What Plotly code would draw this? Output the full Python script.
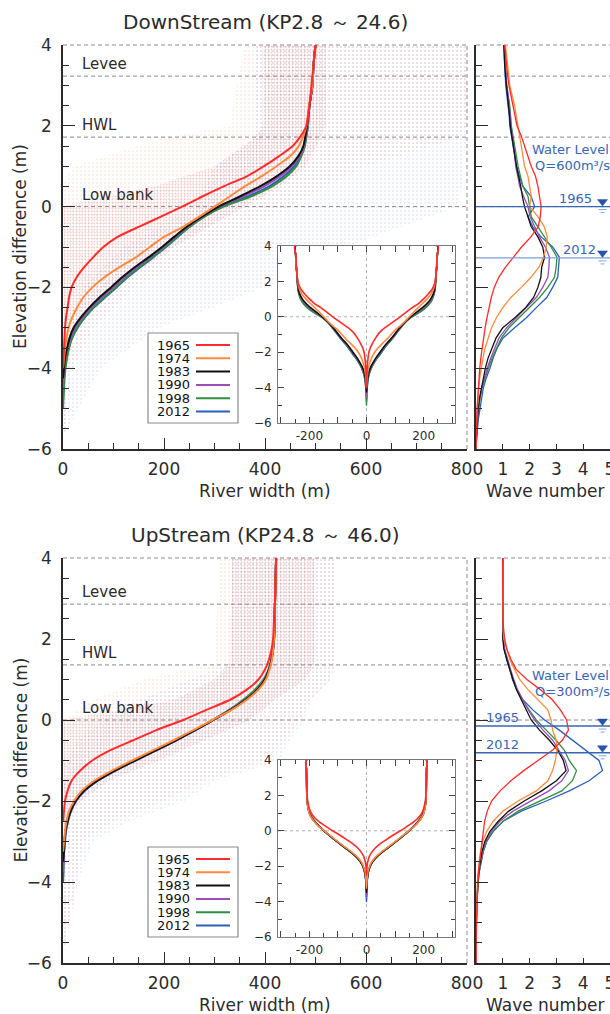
import plotly.graph_objects as go

W, H = 610, 1014
FONT = "DejaVu Sans"
INK = "#2b2b2b"
LEVEL_BLUE = "#3766b4"

YEARS = ["1965", "1974", "1983", "1990", "1998", "2012"]
YEAR_COLORS = ["#ff2b2b", "#ff8a3d", "#111111", "#9a4dbb", "#2f8f3f", "#2b5fb8"]

# ---- river width (m) against elevation difference (m) ----
WIDTH_ELEV = [4.0, 3.5, 3.0, 2.5, 2.0, 1.75, 1.5, 1.25, 1.0, 0.75, 0.5, 0.25, 0.0,
              -0.25, -0.5, -0.75, -1.0, -1.25, -1.5, -1.75, -2.0, -2.25, -2.5, -2.75,
              -3.0, -3.25, -3.5, -3.75, -4.0, -4.25, -4.5, -4.75, -5.0]

DOWN_W_1965 = [500, 496, 492, 488, 482, 471, 455, 428, 398, 364, 318, 276, 236, 194, 150, 108, 80,
               60, 42, 27, 17, 12, 9, 6, 4, 3, 2, 1, 0, None, None, None, None]
DOWN_W_1974 = [500, 496, 494, 487, 482, 476, 467, 450, 423, 393, 360, 330, 300, 270, 238, 200, 172,
               145, 112, 82, 58, 40, 28, 18, 11, 7, 4, 2, 0, None, None, None, None]
DOWN_W_1983 = [500, 496, 494, 488, 483, 480, 476, 466, 449, 423, 390, 350, 308, 275, 245, 220, 196,
               170, 142, 117, 95, 72, 52, 35, 21, 13, 8, 4, 2, 0, None, None, None]
DOWN_W_1990 = [500, 496, 494, 488, 484, 481, 477, 469, 453, 430, 398, 356, 310, 276, 247, 222, 198,
               172, 146, 121, 99, 76, 55, 38, 24, 15, 9, 5, 3, 1, 0, None, None]
DOWN_W_1998 = [500, 496, 494, 488, 485, 482, 479, 472, 462, 443, 414, 372, 318, 280, 251, 226, 202,
               177, 151, 126, 104, 81, 60, 42, 28, 18, 12, 8, 5, 3, 2, 1, 0]
DOWN_W_2012 = [500, 496, 494, 488, 485, 482, 478, 470, 458, 437, 408, 366, 315, 279, 251, 227, 204,
               179, 153, 128, 106, 83, 61, 43, 29, 18, 11, 7, 4, 2, 1, 0, None]

UP_W_1965 = [422, 421, 420, 418, 416, 413, 408, 400, 387, 364, 331, 284, 238, 185, 139, 93, 58,
             34, 17, 9, 4, 2, 0, None, None, None, None, None, None, None, None, None, None]
UP_W_1974 = [422, 421, 420, 419, 418, 416, 414, 409, 402, 387, 364, 334, 296, 258, 219, 178, 137,
             97, 62, 37, 22, 12, 7, 4, 2, 0, None, None, None, None, None, None, None]
UP_W_1983 = [422, 421, 420, 419, 418, 416, 413, 408, 400, 385, 362, 332, 298, 262, 224, 184, 143,
             103, 68, 42, 25, 15, 9, 5, 3, 2, 0, None, None, None, None, None, None]
UP_W_1990 = [422, 421, 420, 419, 418, 416, 413, 408, 399, 384, 361, 331, 297, 261, 223, 183, 142,
             102, 67, 41, 25, 15, 9, 5, 3, 2, 1, 0, None, None, None, None, None]
UP_W_1998 = [422, 421, 420, 419, 418, 416, 413, 407, 397, 380, 357, 329, 296, 261, 223, 183, 142,
             102, 67, 41, 25, 15, 9, 5, 3, 2, 1, 0, None, None, None, None, None]
UP_W_2012 = [422, 421, 420, 419, 418, 416, 413, 408, 400, 385, 362, 332, 298, 262, 225, 185, 144,
             104, 69, 43, 26, 16, 10, 6, 4, 2, 1, 1, 0, None, None, None, None]

# ---- wave number against elevation difference ----
WAVE_ELEV = [4.0, 3.75, 3.5, 3.25, 3.0, 2.75, 2.5, 2.25, 2.0, 1.75, 1.5, 1.25, 1.0, 0.75, 0.5, 0.25,
             0.0, -0.25, -0.5, -0.75, -1.0, -1.25, -1.5, -1.75, -2.0, -2.25, -2.5, -2.75, -3.0,
             -3.25, -3.5, -3.75, -4.0, -4.25, -4.5, -4.75, -5.0, -5.25, -5.5, -5.75, -6.0]

DOWN_K_1965 = [1.07, 1.10, 1.14, 1.18, 1.23, 1.30, 1.38, 1.45, 1.53, 1.69, 1.81, 1.94, 2.06, 2.22,
               2.31, 2.37, 2.43, 2.40, 2.32, 2.05, 1.70, 1.40, 1.10, 0.85, 0.68, 0.57, 0.48, 0.41,
               0.34, 0.28, 0.23, 0.18, 0.14, 0.11, 0.08, 0.06, 0.04, 0.03, 0.02, 0.01, 0.0]
DOWN_K_1974 = [1.10, 1.14, 1.18, 1.22, 1.26, 1.35, 1.44, 1.50, 1.57, 1.63, 1.69, 1.75, 1.81, 1.94,
               2.00, 2.06, 2.00, 2.31, 2.55, 2.66, 2.62, 2.52, 2.35, 2.05, 1.69, 1.30, 1.00, 0.76,
               0.58, 0.45, 0.34, 0.26, 0.19, 0.14, 0.10, 0.07, 0.05, 0.03, 0.02, 0.01, 0.0]
DOWN_K_1983 = [1.04, 1.05, 1.07, 1.10, 1.14, 1.18, 1.23, 1.25, 1.28, 1.33, 1.38, 1.45, 1.51, 1.60,
               1.67, 1.73, 1.81, 1.94, 2.06, 2.31, 2.49, 2.56, 2.45, 2.42, 2.31, 2.15, 1.85, 1.45,
               1.00, 0.75, 0.60, 0.45, 0.35, 0.27, 0.19, 0.13, 0.08, 0.05, 0.03, 0.01, 0.0]
DOWN_K_1990 = [1.05, 1.07, 1.09, 1.12, 1.15, 1.20, 1.25, 1.28, 1.30, 1.36, 1.41, 1.45, 1.48, 1.56,
               1.63, 1.78, 1.94, 2.02, 2.19, 2.37, 2.59, 2.74, 2.72, 2.68, 2.49, 2.25, 1.88, 1.51,
               1.14, 0.86, 0.70, 0.55, 0.42, 0.31, 0.21, 0.14, 0.09, 0.06, 0.03, 0.01, 0.0]
DOWN_K_1998 = [1.05, 1.07, 1.10, 1.12, 1.14, 1.20, 1.26, 1.29, 1.32, 1.38, 1.44, 1.50, 1.57, 1.66,
               1.75, 1.94, 2.00, 2.06, 2.31, 2.56, 2.80, 3.02, 2.99, 2.93, 2.68, 2.37, 2.00, 1.63,
               1.23, 0.95, 0.77, 0.60, 0.46, 0.33, 0.22, 0.15, 0.10, 0.06, 0.04, 0.02, 0.0]
DOWN_K_2012 = [1.04, 1.05, 1.07, 1.09, 1.11, 1.16, 1.21, 1.24, 1.26, 1.32, 1.38, 1.45, 1.51, 1.62,
               1.75, 2.06, 2.19, 1.94, 2.12, 2.43, 2.86, 3.11, 3.09, 3.05, 2.86, 2.64, 2.25, 1.88,
               1.44, 1.01, 0.79, 0.64, 0.52, 0.38, 0.27, 0.20, 0.15, 0.09, 0.05, 0.02, 0.0]

UP_K_1965 = [0.99, 0.99, 0.99, 0.99, 0.99, 1.00, 1.01, 1.03, 1.07, 1.15, 1.30, 1.50, 1.90, 2.40,
             2.85, 3.15, 3.38, 3.45, 3.22, 2.85, 2.30, 1.78, 1.30, 0.90, 0.58, 0.42, 0.32, 0.27,
             0.22, 0.17, 0.12, 0.09, 0.07, 0.05, 0.04, 0.03, 0.02, 0.01, 0.01, 0.0, 0.0]
UP_K_1974 = [1.00, 1.00, 1.00, 1.00, 1.00, 1.00, 1.00, 1.01, 1.04, 1.14, 1.26, 1.44, 1.63, 1.94,
             2.31, 2.68, 2.80, 2.86, 2.99, 3.02, 2.96, 2.86, 2.68, 2.25, 1.57, 1.01, 0.64, 0.40,
             0.25, 0.17, 0.12, 0.08, 0.05, 0.04, 0.03, 0.02, 0.01, 0.01, 0.0, 0.0, 0.0]
UP_K_1983 = [1.00, 1.00, 1.00, 1.00, 1.00, 1.00, 1.00, 1.00, 1.00, 1.04, 1.14, 1.26, 1.38, 1.51,
             1.69, 1.88, 2.06, 2.37, 2.74, 3.05, 3.26, 3.36, 3.00, 2.45, 1.80, 1.22, 0.83, 0.52,
             0.33, 0.22, 0.15, 0.10, 0.07, 0.05, 0.03, 0.02, 0.01, 0.01, 0.0, 0.0, 0.0]
UP_K_1990 = [1.00, 1.00, 1.00, 1.00, 1.00, 1.00, 1.00, 1.00, 1.02, 1.07, 1.17, 1.29, 1.41, 1.55,
             1.75, 1.95, 2.19, 2.50, 2.86, 3.11, 3.33, 3.45, 3.20, 2.72, 2.06, 1.38, 0.89, 0.58,
             0.37, 0.25, 0.17, 0.11, 0.07, 0.05, 0.03, 0.02, 0.01, 0.01, 0.0, 0.0, 0.0]
UP_K_1998 = [1.00, 1.00, 1.00, 1.00, 1.00, 1.00, 1.00, 1.00, 1.02, 1.06, 1.15, 1.27, 1.38, 1.52,
             1.73, 1.98, 2.25, 2.62, 2.99, 3.30, 3.48, 3.75, 3.60, 3.20, 2.37, 1.57, 1.01, 0.64,
             0.40, 0.27, 0.19, 0.12, 0.08, 0.05, 0.03, 0.02, 0.01, 0.01, 0.0, 0.0, 0.0]
UP_K_2012 = [1.00, 1.00, 1.00, 1.00, 1.00, 1.00, 1.00, 1.00, 1.02, 1.06, 1.14, 1.26, 1.36, 1.52,
             1.75, 2.12, 2.56, 3.11, 3.60, 4.10, 4.59, 4.72, 4.22, 3.48, 2.62, 1.69, 1.01, 0.64,
             0.40, 0.27, 0.19, 0.12, 0.08, 0.05, 0.03, 0.02, 0.01, 0.01, 0.0, 0.0, 0.0]

# ---- spread of the individual cross-section points (width bounds per elevation) ----
DOWN_CLOUD_ELEV = [4.0, 2.0, 1.7, 1.0, 0.5, 0.0, -1.0, -2.0, -3.0, -4.0, -5.0, -5.6]
DOWN_ORANGE_LEFT = [360, 330, 200, 20, 0, 0, 0, 0, 0, 0, 0, 0]
DOWN_ORANGE_RIGHT = [800, 800, 780, 600, 520, 450, 300, 140, 60, 20, 8, 2]
DOWN_BLUE_LEFT = [380, 380, 380, 300, 280, 260, 120, 40, 5, 0, 0, 0]
DOWN_BLUE_RIGHT = [800, 800, 800, 790, 790, 780, 560, 400, 190, 75, 30, 5]
DOWN_CORE_LEFT = [395, 395, 380, 300, 180, 0, 0, 0, 0, 0, 0, 0]
DOWN_CORE_RIGHT = [520, 520, 510, 480, 430, 360, 220, 100, 25, 6, 1, 0]

UP_CLOUD_ELEV = [4.0, 1.4, 1.0, 0.5, 0.0, -0.5, -1.0, -1.5, -2.0, -2.5, -3.0, -4.0, -5.0, -5.6]
UP_ORANGE_LEFT = [310, 300, 160, 60, 0, 0, 0, 0, 0, 0, 0, 0, 0, 0]
UP_ORANGE_RIGHT = [540, 540, 530, 490, 470, 440, 400, 280, 200, 100, 40, 25, 12, 3]
UP_BLUE_LEFT = [330, 330, 250, 150, 80, 30, 10, 0, 0, 0, 0, 0, 0, 0]
UP_BLUE_RIGHT = [540, 540, 530, 490, 480, 450, 430, 300, 240, 130, 60, 30, 15, 3]
UP_CORE_LEFT = [335, 330, 300, 220, 0, 0, 0, 0, 0, 0, 0, 0, 0, 0]
UP_CORE_RIGHT = [500, 500, 480, 420, 370, 280, 190, 90, 35, 8, 1, 0, 0, 0]

# ---- reference levels (m) ----
DOWN_LEVELS = {"Levee": 3.23, "HWL": 1.72, "Low bank": 0.0}
UP_LEVELS = {"Levee": 2.86, "HWL": 1.36, "Low bank": 0.0}
DOWN_WATER = {"1965": 0.0, "2012": -1.27}
UP_WATER = {"1965": -0.15, "2012": -0.81}

# ---- tick positions ----
MAIN_X_TICKS = [0, 200, 400, 600, 800]
MAIN_X_MINOR = [50, 100, 150, 250, 300, 350, 450, 500, 550, 650, 700, 750]
ELEV_TICKS = [-6, -4, -2, 0, 2, 4]
ELEV_MINOR = [v / 2 for v in range(-12, 9) if v % 4 != 0]
WAVE_TICKS = [1, 2, 3, 4, 5]
INSET_X_TICKS = [-300, -200, -100, 0, 100, 200, 300]
INSET_X_TEXT = ["", "-200", "", "0", "", "200", ""]
INSET_X_MINOR = [-250, -150, -50, 50, 150, 250]
INSET_Y_MINOR = [-5, -3, -1, 1, 3]


def px(x):
    return x / W


def py(y):
    return 1 - y / H


def pairs(xs, ys):
    keep = [(a, b) for a, b in zip(xs, ys) if a is not None and b is not None]
    return [a for a, _ in keep], [b for _, b in keep]


PANELS = [
    dict(title="DownStream (KP2.8 \uff5e 24.6)", top=45, bottom=449, inset=(246, 423),
         widths=[DOWN_W_1965, DOWN_W_1974, DOWN_W_1983, DOWN_W_1990, DOWN_W_1998, DOWN_W_2012],
         waves=[DOWN_K_1965, DOWN_K_1974, DOWN_K_1983, DOWN_K_1990, DOWN_K_1998, DOWN_K_2012],
         cloud=(DOWN_CLOUD_ELEV, DOWN_ORANGE_LEFT, DOWN_ORANGE_RIGHT, DOWN_BLUE_LEFT,
                DOWN_BLUE_RIGHT, DOWN_CORE_LEFT, DOWN_CORE_RIGHT),
         levels=DOWN_LEVELS, water=DOWN_WATER, flow="Q=600m\u00b3/s", ax=("", "2", "3")),
    dict(title="UpStream (KP24.8 \uff5e 46.0)", top=558, bottom=963, inset=(760, 937),
         widths=[UP_W_1965, UP_W_1974, UP_W_1983, UP_W_1990, UP_W_1998, UP_W_2012],
         waves=[UP_K_1965, UP_K_1974, UP_K_1983, UP_K_1990, UP_K_1998, UP_K_2012],
         cloud=(UP_CLOUD_ELEV, UP_ORANGE_LEFT, UP_ORANGE_RIGHT, UP_BLUE_LEFT,
                UP_BLUE_RIGHT, UP_CORE_LEFT, UP_CORE_RIGHT),
         levels=UP_LEVELS, water=UP_WATER, flow="Q=300m\u00b3/s", ax=("4", "5", "6")),
]

fig = go.Figure()
shapes = []
annotations = []
layout_axes = {}


def tickfont(size):
    return dict(family=FONT, size=size, color=INK)


def add_text(x, y, text, size, color=INK, xanchor="center", yanchor="middle", **kw):
    annotations.append(dict(x=x, y=y, xref="paper", yref="paper", text=text, showarrow=False,
                            xanchor=xanchor, yanchor=yanchor,
                            font=dict(family=FONT, size=size, color=color), **kw))


for idx, p in enumerate(PANELS):
    m, w, s = p["ax"]
    xm, ym = "x" + m, "y" + m
    xw, yw = "x" + w, "y" + w
    xs, ys = "x" + s, "y" + s
    ydom = [py(p["bottom"]), py(p["top"])]
    mid = (p["top"] + p["bottom"]) / 2

    # point cloud of every surveyed section
    elev, ol, orr, bl, br, cl, cr = p["cloud"]
    for left, right, col, size, sol in [
        (bl, br, "rgba(110,130,225,0.7)", 4, 0.12),
        (ol, orr, "rgba(250,140,105,0.65)", 4, 0.13),
        (cl, cr, "rgba(180,85,95,0.6)", 3, 0.28),
    ]:
        fig.add_trace(go.Scatter(
            x=list(left) + list(right)[::-1], y=list(elev) + list(elev)[::-1],
            xaxis=xm, yaxis=ym, mode="none", fill="toself", fillcolor="rgba(0,0,0,0)",
            fillpattern=dict(shape=".", fgcolor=col, bgcolor="rgba(0,0,0,0)", size=size,
                             solidity=sol),
            hoverinfo="skip", showlegend=False))

    # mean cross-section curves, the inset mirrors them about the centre line
    for i in reversed(range(len(YEARS))):
        wx, wy = pairs(p["widths"][i], WIDTH_ELEV)
        fig.add_trace(go.Scatter(x=wx, y=wy, xaxis=xm, yaxis=ym, mode="lines",
                                 line=dict(color=YEAR_COLORS[i], width=2, shape="spline",
                                           smoothing=0.6),
                                 showlegend=False, hoverinfo="skip"))
    for i in reversed(range(len(YEARS))):
        wx, wy = pairs(p["widths"][i], WIDTH_ELEV)
        half_l = [-v / 2 for v in wx][::-1]
        half_r = [v / 2 for v in wx]
        fig.add_trace(go.Scatter(x=half_l + half_r, y=wy[::-1] + wy, xaxis=xs, yaxis=ys,
                                 mode="lines",
                                 line=dict(color=YEAR_COLORS[i], width=1.6, shape="spline",
                                           smoothing=0.6),
                                 showlegend=False, hoverinfo="skip"))
    for i in reversed(range(len(YEARS))):
        fig.add_trace(go.Scatter(x=p["waves"][i], y=WAVE_ELEV, xaxis=xw, yaxis=yw, mode="lines",
                                 line=dict(color=YEAR_COLORS[i], width=1.3),
                                 showlegend=False, hoverinfo="skip"))

    common = dict(automargin=False, showgrid=False, zeroline=False, ticklabeloverflow="allow")
    main_x = dict(domain=[px(63), px(467)], range=[0, 800], anchor=ym, tickmode="array",
                  tickvals=MAIN_X_TICKS, showline=True, linecolor=INK, linewidth=1.5,
                  ticks="inside", ticklen=11, tickwidth=1.2, tickcolor=INK,
                  tickfont=tickfont(17), ticklabelstandoff=4,
                  minor=dict(tickvals=MAIN_X_MINOR, ticks="inside", ticklen=6, tickcolor=INK,
                             showgrid=False), **common)
    main_y = dict(domain=ydom, range=[-6, 4], anchor=xm, tickmode="array", tickvals=ELEV_TICKS,
                  showline=True, linecolor=INK, linewidth=1.5, ticks="inside", ticklen=12,
                  tickwidth=1.2, tickcolor=INK, tickfont=tickfont(17), ticklabelstandoff=6,
                  minor=dict(tickvals=ELEV_MINOR, ticks="inside", ticklen=6, tickcolor=INK,
                             showgrid=False), **common)
    wave_x = dict(domain=[px(476), 1.0], range=[0, 5], anchor=yw, tickmode="array",
                  tickvals=WAVE_TICKS, showline=True, linecolor=INK, linewidth=1.5,
                  ticks="inside", ticklen=5, tickcolor=INK, tickfont=tickfont(17),
                  ticklabelstandoff=4, **common)
    wave_y = dict(domain=ydom, range=[-6, 4], anchor=xw, tickmode="array", tickvals=ELEV_TICKS,
                  showticklabels=False, showline=True, linecolor=INK, linewidth=1.5,
                  ticks="inside", ticklen=12, tickwidth=1.2, tickcolor=INK,
                  minor=dict(tickvals=ELEV_MINOR, ticks="inside", ticklen=6, tickcolor=INK,
                             showgrid=False), **common)
    inset_x = dict(domain=[px(278), px(455)], range=[-310, 310], anchor=ys, tickmode="array",
                   tickvals=INSET_X_TICKS, ticktext=INSET_X_TEXT, showline=True,
                   linecolor="#777", linewidth=1, mirror="ticks", ticks="inside", ticklen=6,
                   tickcolor="#444", tickfont=tickfont(12), ticklabelstandoff=2,
                   minor=dict(tickvals=INSET_X_MINOR, ticks="inside", ticklen=4,
                              tickcolor="#444", showgrid=False), **common)
    inset_y = dict(domain=[py(p["inset"][1]), py(p["inset"][0])], range=[-6, 4], anchor=xs,
                   tickmode="array", tickvals=ELEV_TICKS, showline=True, linecolor="#777",
                   linewidth=1, mirror="ticks", ticks="inside", ticklen=6, tickcolor="#444",
                   tickfont=tickfont(12), ticklabelstandoff=3,
                   minor=dict(tickvals=INSET_Y_MINOR, ticks="inside", ticklen=4,
                              tickcolor="#444", showgrid=False), **common)
    for name, cfg in [("xaxis" + m, main_x), ("yaxis" + m, main_y), ("xaxis" + w, wave_x),
                      ("yaxis" + w, wave_y), ("xaxis" + s, inset_x), ("yaxis" + s, inset_y)]:
        layout_axes[name] = cfg

    dash_grey = dict(color="#8a8a8a", width=1, dash="4px,3px")
    # dashed frame on the open sides
    shapes += [
        dict(type="line", xref=xm + " domain", yref=ym + " domain", x0=0, x1=1, y0=1, y1=1,
             line=dash_grey, layer="below"),
        dict(type="line", xref=xm + " domain", yref=ym + " domain", x0=1, x1=1, y0=0, y1=1,
             line=dash_grey, layer="below"),
        dict(type="line", xref=xw + " domain", yref=yw + " domain", x0=0, x1=1, y0=1, y1=1,
             line=dash_grey, layer="below"),
    ]
    # levee / HWL / low bank
    for label, lev in p["levels"].items():
        shapes.append(dict(type="line", xref=xm + " domain", yref=ym, x0=0, x1=1, y0=lev,
                           y1=lev, line=dash_grey, layer="below"))
        shapes.append(dict(type="line", xref=xw + " domain", yref=yw, x0=0, x1=1, y0=lev,
                           y1=lev, line=dash_grey, layer="below"))
        annotations.append(dict(x=34, y=lev, xref=xm, yref=ym, text=label, showarrow=False,
                                xanchor="left", yanchor="bottom", yshift=1,
                                font=dict(family=FONT, size=15, color=INK)))

    # inset: opaque background and centre lines
    shapes += [
        dict(type="rect", xref=xs, yref=ys, x0=-310, x1=310, y0=-6, y1=4,
             fillcolor="white", line=dict(width=0), layer="below"),
        dict(type="line", xref=xs, yref=ys, x0=0, x1=0, y0=-6, y1=4,
             line=dict(color="#b0b0b0", width=1, dash="dot"), layer="below"),
        dict(type="line", xref=xs, yref=ys, x0=-310, x1=310, y0=0, y1=0,
             line=dict(color="#b0b0b0", width=1, dash="dot"), layer="below"),
    ]

    # water levels in the wave-number panel
    kx, ky = 5 / 134, 10 / (p["bottom"] - p["top"])
    for j, (yr, lev) in enumerate(p["water"].items()):
        col = LEVEL_BLUE if (idx == 1 or j == 0) else "#7f9ed8"
        shapes.append(dict(type="line", xref=xw + " domain", yref=yw, x0=0, x1=1, y0=lev,
                           y1=lev, line=dict(color=col, width=1.4), layer="above"))
        xc = 4.72
        tri = (f"M {xc - 5 * kx},{lev + 7 * ky} L {xc + 5 * kx},{lev + 7 * ky} "
               f"L {xc},{lev + 0.5 * ky} Z")
        shapes.append(dict(type="path", xref=xw, yref=yw, path=tri, fillcolor="#2752a6",
                           line=dict(color="#2752a6", width=0.5), layer="above"))
        for off, half in [(3, 4), (6, 2)]:
            shapes.append(dict(type="line", xref=xw, yref=yw, x0=xc - half * kx,
                               x1=xc + half * kx, y0=lev - off * ky, y1=lev - off * ky,
                               line=dict(color="#8aa4d8", width=1), layer="above"))
        if idx == 0:
            lx = 3.7 if j == 0 else 3.85
        else:
            lx = 1.0
        annotations.append(dict(x=lx, y=lev, xref=xw, yref=yw, text=yr, showarrow=False,
                                xanchor="center", yanchor="bottom", yshift=-1,
                                font=dict(family=FONT, size=13, color=LEVEL_BLUE)))
    wl_y = 150 if idx == 0 else 675
    add_text(px(570), py(wl_y), "Water Level", 13, LEVEL_BLUE)
    add_text(px(572), py(wl_y + 16), p["flow"], 13, LEVEL_BLUE)

    # legend box
    lt = p["top"] + 288 if idx == 0 else p["top"] + 289
    shapes.append(dict(type="rect", xref="paper", yref="paper", x0=px(148), x1=px(238),
                       y0=py(lt), y1=py(lt + 90), fillcolor="white",
                       line=dict(color="#8a8a8a", width=1.2), layer="above"))
    for i, yr in enumerate(YEARS):
        ry = lt + 12 + i * 13.3
        shapes.append(dict(type="line", xref="paper", yref="paper", x0=px(196), x1=px(230),
                           y0=py(ry), y1=py(ry), line=dict(color=YEAR_COLORS[i], width=2),
                           layer="above"))
        add_text(px(155), py(ry), yr, 13, "#111", xanchor="left")

    # titles
    add_text(px(265), py(p["top"] - 23), p["title"], 20)
    add_text(px(20), py(mid), "Elevation difference (m)", 17, textangle=-90)
    add_text(px(265), py(p["bottom"] + 42), "River width (m)", 17)
    add_text(px(545), py(p["bottom"] + 42), "Wave number", 17)

fig.update_layout(
    width=W, height=H, autosize=False,
    margin=dict(l=0, r=0, t=0, b=0, pad=0, autoexpand=False),
    paper_bgcolor="white", plot_bgcolor="white", showlegend=False,
    font=dict(family=FONT, color=INK),
    shapes=shapes, annotations=annotations, **layout_axes,
)

# keep the page exactly the size of the figure: no body margin, no scrollbars
PAGE_CSS = ("document.documentElement.style.margin='0';"
            "document.documentElement.style.overflow='hidden';"
            "document.body.style.margin='0';document.body.style.padding='0';"
            "document.body.style.overflow='hidden';")
fig.write_html("out.html", post_script=PAGE_CSS)
